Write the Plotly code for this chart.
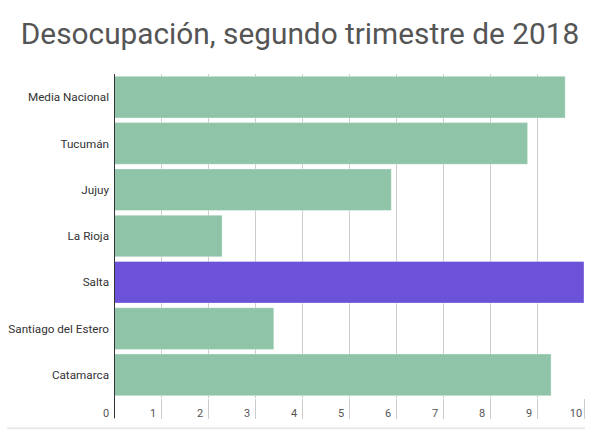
import plotly.graph_objects as go

# Desocupación por provincia, 2do trimestre 2018 (%)
provincias = [
    "Media Nacional",
    "Tucumán",
    "Jujuy",
    "La Rioja",
    "Salta",
    "Santiago del Estero",
    "Catamarca",
]
desocupacion = [9.6, 8.8, 5.9, 2.3, 10.0, 3.4, 9.3]
destacada = "Salta"

x_ticks = list(range(0, 11))
x_tick_labels = [str(v) for v in x_ticks]

VERDE = "#8fc4a8"
VIOLETA = "#6b52d8"
colores = [VIOLETA if p == destacada else VERDE for p in provincias]

fig = go.Figure()
fig.add_trace(go.Bar(
    x=desocupacion,
    y=provincias,
    orientation="h",
    marker={"color": colores, "line": {"color": "rgba(255,255,255,0.35)", "width": 1}},
    hoverinfo="x+y",
))

fig.update_layout(
    width=600,
    height=437,
    margin={"l": 114, "r": 16, "t": 74, "b": 39, "autoexpand": False},
    paper_bgcolor="white",
    plot_bgcolor="white",
    font={"family": "Roboto", "color": "#444"},
    title={
        "text": "Desocupación, segundo trimestre de 2018",
        "x": 0.5,
        "xanchor": "center",
        "y": 0.923,
        "yanchor": "middle",
        "font": {"size": 29.8, "color": "#555", "family": "Roboto"},
    },
    bargap=0.1,
    showlegend=False,
)

fig.update_xaxes(
    range=[0, 10],
    tickvals=x_ticks,
    ticktext=x_tick_labels,
    showgrid=True,
    gridcolor="#cccccc",
    gridwidth=1,
    zeroline=False,
    ticks="outside",
    ticklen=20,
    tickcolor="#cccccc",
    tickwidth=1,
    ticklabelstandoff=-15,
    ticklabelshift=-8,
    tickfont={"size": 11, "color": "#555"},
    automargin=False,
    fixedrange=True,
)
fig.update_yaxes(
    autorange="reversed",
    showgrid=False,
    zeroline=False,
    ticks="",
    ticklabelstandoff=4,
    tickfont={"size": 11.7, "color": "#333"},
    automargin=False,
    fixedrange=True,
)

# dark baseline at 0, extended below the plot like the reference
fig.add_shape(
    type="line", xref="x", yref="paper",
    x0=0, x1=0, y0=-0.062, y1=1,
    line={"color": "#333333", "width": 2},
)
# light separator under the chart
fig.add_shape(
    type="line", xref="paper", yref="paper",
    x0=-0.227, x1=1.002, y0=-0.093, y1=-0.093,
    line={"color": "#e9e9e9", "width": 2},
)

# drop the default page margin so the figure sits at the window corner
fig.write_html(
    "out.html",
    config={"displayModeBar": False},
    post_script="document.body.style.margin='0';",
)
